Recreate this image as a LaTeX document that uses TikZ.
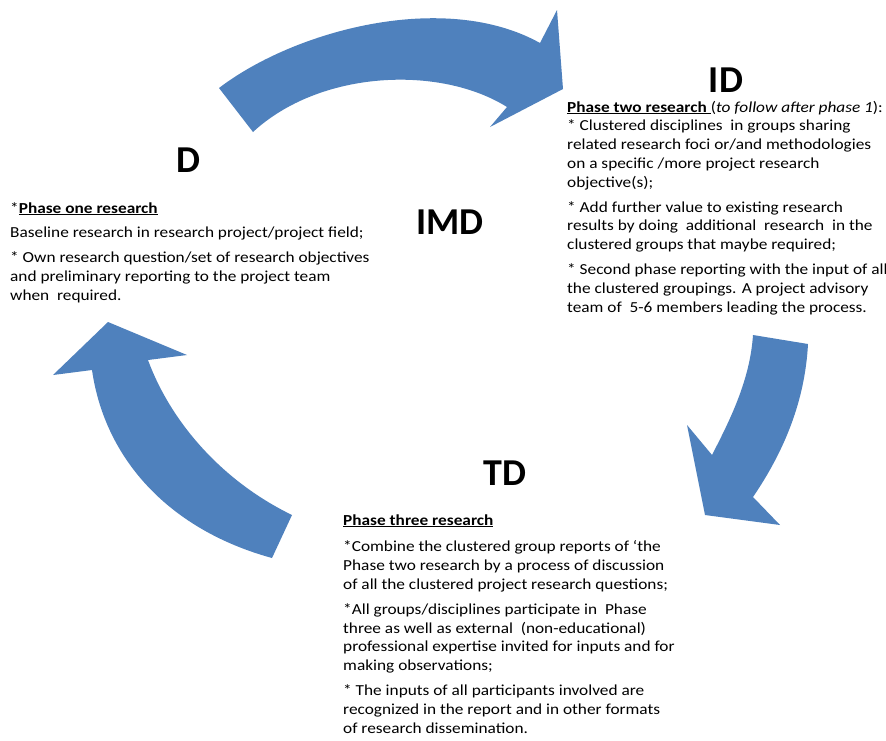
\documentclass[tikz,border=0pt]{standalone}
\usepackage{fontspec}
\setmainfont{Carlito}
\newfontfamily\bodyfont{Carlito}[FakeStretch=1.13]
\definecolor{arrowblue}{HTML}{4F81BD}
\begin{document}
\begin{tikzpicture}[x=1pt,y=-1pt,
  bigarrow/.style={fill=arrowblue,draw=none},
  title/.style={font=\fontsize{38}{42}\selectfont\bfseries,inner sep=0pt,anchor=center},
  body/.style={font=\bodyfont\fontsize{15.3}{18.8}\selectfont,inner sep=0pt,anchor=north west,align=left}]
\useasboundingbox[fill=white] (0,0) rectangle (886,740);
% top arrow (D -> ID)
\fill[bigarrow] (219,88) .. controls (295,30) and (445,-10) .. (540,43)
  -- (557,10) -- (563,89) -- (490,127) -- (507,107)
  .. controls (440,65) and (320,70) .. (253,132) -- cycle;
% right arrow (ID -> TD)
\fill[bigarrow] (808,344) .. controls (805,400) and (785,450) .. (753,497)
  -- (780,525) -- (705,515) -- (687,425) -- (712,455)
  .. controls (730,420) and (750,380) .. (753,335) -- cycle;
% left arrow (TD -> D)
\fill[bigarrow] (292,515) .. controls (220,480) and (170,420) .. (148,360)
  -- (187,355) -- (108,322) -- (53,375) -- (92,370)
  .. controls (105,460) and (170,530) .. (272,558) -- cycle;
% titles
\node[title] (tD) at (188,160) {D};
\node[title] (tID) at (726,80) {ID};
\node[title] (tIMD) at (450,222) {IMD};
\node[title] (tTD) at (505,473) {TD};
% D block
\node[body] (bD) at (10,199.7) {\strut*\textbf{\underline{Phase one research}}\\[6pt]
Baseline research in research project/project field;\\[6pt]
* Own research question/set of research objectives\\
and preliminary reporting to the project team\\
when\ \ required.};
% ID block
\node[body] (bID) at (567,98.7) {\strut\textbf{\underline{Phase two research }}(\textit{to follow after phase 1}):\\
* Clustered disciplines\ \ in groups sharing\\
related research foci or/and methodologies\\
on a specific /more project research\\
objective(s);\\[6pt]
* Add further value to existing research\\
results by doing\ \ additional\ \ research\ \ in the\\
clustered groups that maybe required;\\[6pt]
* Second phase reporting with the input of all\\
the clustered groupings. A project advisory\\
team of\ \ 5-6 members leading the process.};
% TD block
\node[body] (bTD) at (343,511.7) {\strut\textbf{\underline{Phase three research}}\\[8pt]
*Combine the clustered group reports of ‘the\\
Phase two research by a process of discussion\\
of all the clustered project research questions;\\[6pt]
*All groups/disciplines participate in\ \ Phase\\
three as well as external\ \ (non-educational)\\
professional expertise invited for inputs and for\\
making observations;\\[6pt]
* The inputs of all participants involved are\\
recognized in the report and in other formats\\
of research dissemination.};
\end{tikzpicture}
\end{document}
